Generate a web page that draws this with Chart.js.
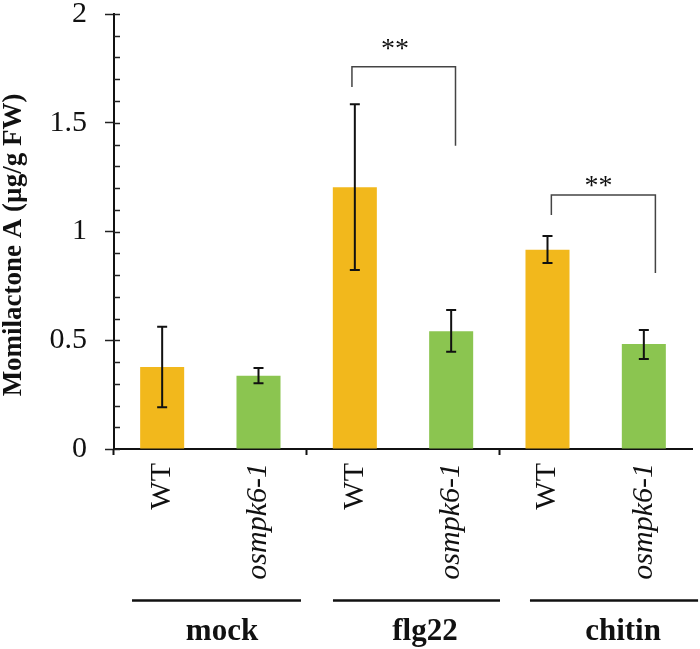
<!DOCTYPE html>
<html>
<head>
<meta charset="utf-8">
<script src="https://cdn.jsdelivr.net/npm/chart.js@4.4.1/dist/chart.umd.min.js"></script>
<style>
  html, body { margin: 0; padding: 0; background: #fff; }
  #wrap { width: 700px; height: 649px; }
</style>
</head>
<body>
<div id="wrap"><canvas id="chart" width="700" height="649"></canvas></div>
<script>
// Momilactone A content
const categories = ['WT', 'osmpk6-1', 'WT', 'osmpk6-1', 'WT', 'osmpk6-1'];
const treatments = ['mock', 'flg22', 'chitin'];
const means   = [0.377, 0.337, 1.203, 0.541, 0.916, 0.483];
const errLow  = [0.192, 0.302, 0.823, 0.447, 0.855, 0.414];
const errHigh = [0.562, 0.372, 1.585, 0.639, 0.979, 0.547];
const yTickLabels = ['0', '0.5', '1', '1.5', '2'];

// significance brackets (value units)
const sigFrom  = [2, 4];
const sigTo    = [3, 5];
const sigTop   = [1.758, 1.168];
const sigFootL = [1.664, 1.076];
const sigFootR = [1.394, 0.809];
const sigText  = ['**', '**'];

const ORANGE = '#F2B81C';
const GREEN = '#8BC550';
const SERIF = '"Liberation Serif", "Times New Roman", serif';

// annotation placement, in category units along x
const bracketX = [[-0.03, 0.045], [0.04, 0.12]];
const starX = [2.417, 4.53];
const starY = [1.86, 1.234];
const groupLine = [[-0.313, 1.441], [1.773, 3.507], [3.818, 5.563]];
const groupTextX = [0.621, 2.728, 4.784];

const annotations = {
  id: 'annotations',
  afterDatasetsDraw(chart) {
    const { ctx } = chart;
    const xs = chart.scales.x;
    const ys = chart.scales.y;
    const meta = chart.getDatasetMeta(0);

    // inner ticks on the y axis (every 0.1)
    ctx.save();
    ctx.strokeStyle = '#222';
    ctx.lineWidth = 1.5;
    for (let v = 0; v <= 20; v++) {
      const y = Math.round(ys.getPixelForValue(v / 10)) + 0.5;
      ctx.beginPath();
      ctx.moveTo(xs.left, y);
      ctx.lineTo(xs.left + 6, y);
      ctx.stroke();
    }

    // error bars
    ctx.strokeStyle = '#111';
    ctx.lineWidth = 2;
    meta.data.forEach((bar, i) => {
      const x = bar.x;
      const yl = ys.getPixelForValue(errLow[i]);
      const yh = ys.getPixelForValue(errHigh[i]);
      ctx.beginPath();
      ctx.moveTo(x, yl); ctx.lineTo(x, yh);
      ctx.moveTo(x - 5, yl); ctx.lineTo(x + 5, yl);
      ctx.moveTo(x - 5, yh); ctx.lineTo(x + 5, yh);
      ctx.stroke();
    });

    // significance brackets
    ctx.strokeStyle = '#444';
    ctx.lineWidth = 1.5;
    ctx.fillStyle = '#111';
    ctx.font = '28px ' + SERIF;
    ctx.textAlign = 'center';
    ctx.textBaseline = 'alphabetic';
    sigFrom.forEach((from, k) => {
      const x1 = xs.getPixelForValue(from + bracketX[k][0]);
      const x2 = xs.getPixelForValue(sigTo[k] + bracketX[k][1]);
      const yt = ys.getPixelForValue(sigTop[k]);
      ctx.beginPath();
      ctx.moveTo(x1, ys.getPixelForValue(sigFootL[k]));
      ctx.lineTo(x1, yt);
      ctx.lineTo(x2, yt);
      ctx.lineTo(x2, ys.getPixelForValue(sigFootR[k]));
      ctx.stroke();
      ctx.fillText(sigText[k], xs.getPixelForValue(starX[k]), ys.getPixelForValue(starY[k]) + 13);
    });

    // treatment group lines and names
    ctx.strokeStyle = '#111';
    ctx.lineWidth = 2.5;
    ctx.font = 'bold 31px ' + SERIF;
    treatments.forEach((name, g) => {
      ctx.beginPath();
      ctx.moveTo(xs.getPixelForValue(groupLine[g][0]), 600.5);
      ctx.lineTo(xs.getPixelForValue(groupLine[g][1]), 600.5);
      ctx.stroke();
      ctx.fillText(name, xs.getPixelForValue(groupTextX[g]), 640);
    });

    // y axis title
    ctx.translate(14, 245);
    ctx.rotate(-Math.PI / 2);
    ctx.font = 'bold 27px ' + SERIF;
    ctx.textBaseline = 'middle';
    ctx.fillText('Momilactone A (µg/g FW)', 0, 0);
    ctx.restore();
  }
};

new Chart(document.getElementById('chart'), {
  type: 'bar',
  data: {
    labels: categories,
    datasets: [{
      data: means,
      backgroundColor: categories.map((c, i) => (i % 2 === 0 ? ORANGE : GREEN)),
      borderWidth: 0,
      barPercentage: 0.457,
      categoryPercentage: 1.0,
    }],
  },
  options: {
    responsive: false,
    animation: false,
    events: [],
    layout: { padding: { top: 14, right: 8, left: 0, bottom: 0 } },
    plugins: {
      legend: { display: false },
      tooltip: { enabled: false },
    },
    scales: {
      x: {
        offset: true,
        border: { display: true, color: '#111', width: 2 },
        grid: {
          offset: true,
          drawOnChartArea: false,
          drawTicks: true,
          tickLength: 6,
          tickWidth: 2,
          tickColor: (ctx) => (ctx.index % 2 === 0 ? '#111' : 'rgba(0,0,0,0)'),
        },
        ticks: {
          minRotation: 90,
          maxRotation: 90,
          autoSkip: false,
          padding: 8,
          color: '#111',
          font: (ctx) => ({
            family: SERIF,
            size: 30,
            style: ctx.index % 2 === 1 ? 'italic' : 'normal',
          }),
        },
        afterFit(scale) {
          scale.height = 200;
          scale.paddingLeft = 0;
          scale.paddingRight = 0;
        },
      },
      y: {
        min: 0,
        max: 2,
        border: { display: true, color: '#111', width: 2 },
        grid: {
          drawOnChartArea: false,
          drawTicks: true,
          tickLength: 9,
          tickWidth: 1.5,
          tickColor: '#222',
        },
        ticks: {
          stepSize: 0.5,
          padding: 18,
          color: '#111',
          font: { family: SERIF, size: 30, lineHeight: 1 },
          callback: (v, i) => yTickLabels[i],
        },
        afterFit(scale) {
          scale.width = 114;
          scale.paddingTop = 0;
          scale.paddingBottom = 0;
        },
      },
    },
  },
  plugins: [annotations],
});
</script>
</body>
</html>
